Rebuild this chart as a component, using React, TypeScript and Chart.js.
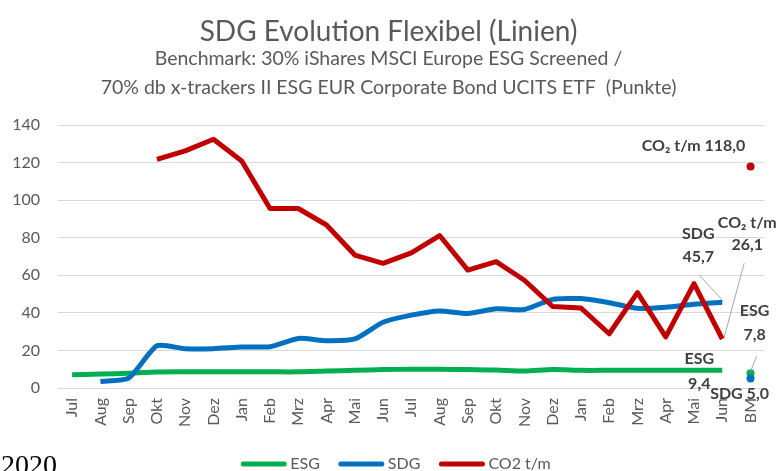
import React, { useEffect, useRef } from "react";
import { Chart, registerables } from "chart.js";

Chart.register(...registerables);

// ---------- data ----------
const categories = [
  "Jul", "Aug", "Sep", "Okt", "Nov", "Dez", "Jan", "Feb", "Mrz", "Apr", "Mai", "Jun",
  "Jul", "Aug", "Sep", "Okt", "Nov", "Dez", "Jan", "Feb", "Mrz", "Apr", "Mai", "Jun", "BM",
];
const esgValues: (number | null)[] = [
  7.0, 7.4, 7.9, 8.5, 8.6, 8.6, 8.6, 8.6, 8.6, 9.0, 9.4, 9.8,
  10.0, 10.0, 9.8, 9.6, 9.0, 9.8, 9.4, 9.4, 9.4, 9.4, 9.4, 9.4, null,
];
const sdgValues: (number | null)[] = [
  null, 3.5, 5.3, 22.5, 20.9, 20.9, 21.8, 22.0, 26.4, 25.2, 26.1, 35.0,
  38.8, 41.0, 39.7, 42.2, 41.8, 47.2, 47.6, 45.4, 42.4, 43.0, 44.6, 45.7, null,
];
const co2Values: (number | null)[] = [
  null, null, null, 121.7, 126.3, 132.5, 120.9, 95.6, 95.6, 86.8, 70.8, 66.4,
  72.0, 81.2, 62.8, 67.3, 57.4, 43.4, 42.6, 28.9, 50.8, 27.2, 55.6, 26.1, null,
];
const benchmarkEsg = 7.8;
const benchmarkSdg = 5.0;
const benchmarkCo2 = 118.0;

const yMin = 0;
const yMax = 140;
const yStep = 20;

const seriesNames = ["ESG", "SDG", "CO2 t/m"];
const seriesColors = ["#00B050", "#0070C0", "#C00000"];
const titleText = "SDG Evolution Flexibel (Linien)";
const subtitleLines = [
  "Benchmark: 30% iShares MSCI Europe ESG Screened /",
  "70% db x-trackers II ESG EUR Corporate Bond UCITS ETF  (Punkte)",
];
const footerText = "2020";

const fmt = (v: number | null) => (v == null ? "" : v.toFixed(1).replace(".", ","));
const lastIdx = categories.length - 1;
const junIdx = categories.length - 2;
const bmOnly = (v: number) => categories.map((_, i) => (i === lastIdx ? v : null));

// dataset indices: 0 ESG, 1 SDG, 2 CO2, 3 ESG BM, 4 SDG BM, 5 CO2 BM
const annotations = [
  { ds: 1, idx: junIdx, lines: ["SDG", fmt(sdgValues[junIdx])], dx: -24, dy: -68, gap: 23, leader: [-23, -27, 1, -1] },
  { ds: 2, idx: junIdx, lines: ["CO\u2082 t/m", fmt(co2Values[junIdx])], dx: 25, dy: -116, gap: 22, leader: [22, -76, 2, -2] },
  { ds: 3, idx: lastIdx, lines: ["ESG", fmt(benchmarkEsg)], dx: 4, dy: -63, gap: 24, leader: [6, -17, 0, -2] },
  { ds: 0, idx: junIdx, lines: ["ESG", fmt(esgValues[junIdx])], dx: -23, dy: -12, gap: 25, leader: null },
  { ds: 4, idx: lastIdx, lines: ["SDG " + fmt(benchmarkSdg)], dx: -11, dy: 15, gap: 0, leader: null },
  { ds: 5, idx: lastIdx, lines: ["CO\u2082 t/m " + fmt(benchmarkCo2)], dx: -57, dy: -21, gap: 0, leader: null },
];

const overlayPlugin = {
  id: "overlay",
  afterDatasetsDraw(chart: any) {
    const ctx = chart.ctx as CanvasRenderingContext2D;
    ctx.save();
    // annotations
    ctx.textAlign = "center";
    ctx.textBaseline = "middle";
    ctx.font = "bold 16px Lato, 'Noto Sans', 'DejaVu Sans'";
    for (const a of annotations) {
      const el = chart.getDatasetMeta(a.ds).data[a.idx];
      if (!el) continue;
      const px = el.x;
      const py = el.y;
      if (a.leader) {
        ctx.strokeStyle = "#A6A6A6";
        ctx.lineWidth = 1;
        ctx.beginPath();
        ctx.moveTo(px + a.leader[0], py + a.leader[1]);
        ctx.lineTo(px + a.leader[2], py + a.leader[3]);
        ctx.stroke();
      }
      ctx.fillStyle = "#404040";
      a.lines.forEach((t, i) => ctx.fillText(t, px + a.dx, py + a.dy + i * a.gap));
    }
    // legend
    ctx.font = "16px Lato, 'Noto Sans'";
    ctx.textAlign = "left";
    const items = [0, 1, 2].map((i) => ({
      text: chart.data.datasets[i].label as string,
      color: chart.data.datasets[i].borderColor as string,
    }));
    const lineLen = 45;
    const gapText = 4;
    const gapItem = 19;
    const widths = items.map((it) => lineLen + gapText + ctx.measureText(it.text).width);
    const total = widths.reduce((s, w) => s + w, 0) + gapItem * (items.length - 1);
    let x = 396 - total / 2;
    const ly = 464;
    items.forEach((it, i) => {
      ctx.strokeStyle = it.color;
      ctx.lineWidth = 5;
      ctx.lineCap = "round";
      ctx.beginPath();
      ctx.moveTo(x + 2, ly);
      ctx.lineTo(x + lineLen - 2, ly);
      ctx.stroke();
      ctx.fillStyle = "#595959";
      ctx.fillText(it.text, x + lineLen + gapText, ly);
      x += widths[i] + gapItem;
    });
    // footer remnant text
    ctx.fillStyle = "#000000";
    ctx.font = "28px 'Liberation Serif', 'DejaVu Serif', serif";
    ctx.textBaseline = "alphabetic";
    ctx.fillText(footerText, 1, 474);
    ctx.restore();
  },
};

export default function App() {
  const canvasRef = useRef<HTMLCanvasElement | null>(null);

  useEffect(() => {
    if (!canvasRef.current) return;
    Chart.defaults.font.family = "Lato, 'Noto Sans', sans-serif";
    const chart = new Chart(canvasRef.current, {
      type: "line",
      data: {
        labels: categories,
        datasets: [
          {
            label: seriesNames[0],
            data: esgValues,
            borderColor: seriesColors[0],
            backgroundColor: seriesColors[0],
            borderWidth: 5,
            pointRadius: 0,
            tension: 0.25,
            order: 2,
          },
          {
            label: seriesNames[1],
            data: sdgValues,
            borderColor: seriesColors[1],
            backgroundColor: seriesColors[1],
            borderWidth: 5,
            pointRadius: 0,
            tension: 0.2,
            order: 1,
          },
          {
            label: seriesNames[2],
            data: co2Values,
            borderColor: seriesColors[2],
            backgroundColor: seriesColors[2],
            borderWidth: 5,
            pointRadius: 0,
            tension: 0,
            borderJoinStyle: "round",
            order: 0,
          },
          {
            label: "ESG BM",
            data: bmOnly(benchmarkEsg),
            borderColor: seriesColors[0],
            backgroundColor: seriesColors[0],
            showLine: false,
            pointRadius: 4,
            pointBorderWidth: 0,
            order: 5,
          },
          {
            label: "SDG BM",
            data: bmOnly(benchmarkSdg),
            borderColor: seriesColors[1],
            backgroundColor: seriesColors[1],
            showLine: false,
            pointRadius: 4,
            pointBorderWidth: 0,
            order: 4,
          },
          {
            label: "CO2 BM",
            data: bmOnly(benchmarkCo2),
            borderColor: seriesColors[2],
            backgroundColor: seriesColors[2],
            showLine: false,
            pointRadius: 4,
            pointBorderWidth: 0,
            order: 3,
          },
        ] as any,
      },
      options: {
        responsive: false,
        animation: false,
        devicePixelRatio: 1,
        layout: { padding: { left: 10, right: 13, top: 0, bottom: 0 } },
        plugins: {
          legend: { display: false },
          tooltip: { enabled: false },
          title: {
            display: true,
            text: titleText,
            color: "#595959",
            font: { size: 28, weight: "normal", lineHeight: 0.9 },
            padding: { top: 19, bottom: 0 },
          },
          subtitle: {
            display: true,
            text: subtitleLines,
            color: "#595959",
            font: { size: 19.5, weight: "normal", lineHeight: 1.49 },
            padding: { top: 0, bottom: 22.8 },
          },
        },
        scales: {
          x: {
            offset: true,
            grid: { display: false, drawTicks: false, offset: true },
            border: { display: false },
            ticks: {
              color: "#595959",
              font: { size: 16 },
              minRotation: 90,
              maxRotation: 90,
              autoSkip: false,
              padding: 10,
            },
            afterFit: (scale: any) => {
              scale.height = 83;
            },
          },
          y: {
            min: yMin,
            max: yMax,
            grid: { color: "#D9D9D9", lineWidth: 1, drawTicks: false },
            border: { display: false },
            ticks: {
              stepSize: yStep,
              color: "#595959",
              font: { size: 16 },
              padding: 18,
            },
            afterFit: (scale: any) => {
              scale.width = 48;
            },
          },
        },
      } as any,
      plugins: [overlayPlugin],
    });
    return () => chart.destroy();
  }, []);

  return (
    <div style={{ position: "fixed", left: 0, top: 0, width: 780, height: 471, background: "#fff" }}>
      <canvas ref={canvasRef} width={780} height={471} style={{ display: "block" }} />
    </div>
  );
}
